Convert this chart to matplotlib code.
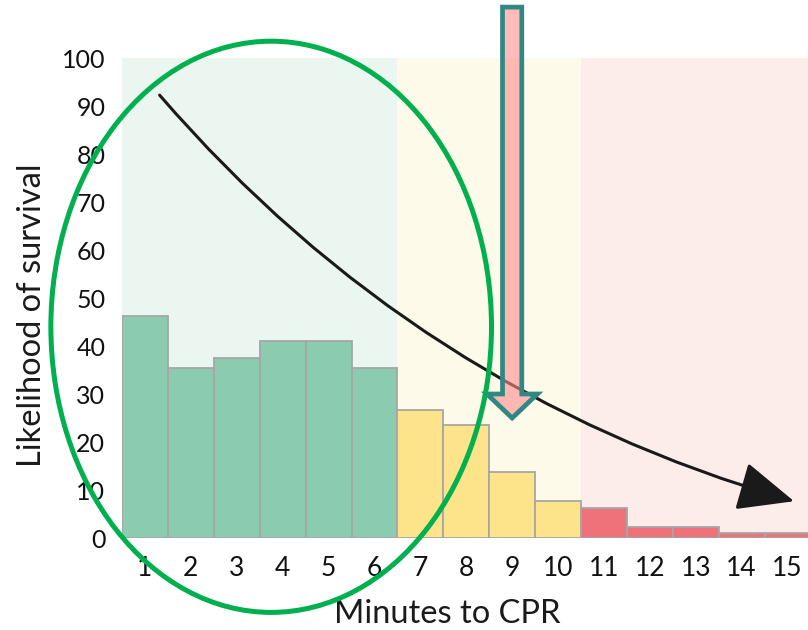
import matplotlib
matplotlib.use("Agg")
import matplotlib.pyplot as plt
from matplotlib.patches import Ellipse, FancyArrowPatch

plt.rcParams['font.family'] = ['Lato', 'DejaVu Sans']

# data
minutes = list(range(1, 16))
survival = [46.3, 35.5, 37.6, 41.0, 41.0, 35.5, 26.7, 23.5, 13.8, 7.7, 6.2, 2.2, 2.2, 1.1, 1.1]
zone_edges = [0.5, 6.5, 10.5, 15.5]
zone_bar_colors = ['#8BCBAF', '#FDE48A', '#EF727A']
zone_bg_colors = ['#EBF6F0', '#FEFAEA', '#FCEDEB']
yticks = list(range(0, 101, 10))

# trend arrow and highlight marks (data coords)
trend_start = (1.28, 92.7)
trend_end = (15.2, 7.5)
marker_x = 9
marker_top = 110.6
marker_tip = 25
ellipse_center = (3.75, 44.0)
ellipse_size = (9.6, 119.0)

fig = plt.figure(figsize=(8.08, 6.30), dpi=100)
ax = fig.add_axes([122 / 808, 92 / 630, 1 - 122 / 808, 480 / 630])

# coloured zones behind the bars
for i in range(3):
    ax.axvspan(zone_edges[i], zone_edges[i + 1], ymin=0, ymax=1,
               color=zone_bg_colors[i], lw=0, zorder=0)

colors = []
for m in minutes:
    for i in range(3):
        if zone_edges[i] < m < zone_edges[i + 1]:
            colors.append(zone_bar_colors[i])
ax.bar(minutes, survival, width=1.0, color=colors, edgecolor='#A6A6A6',
       linewidth=1.3, zorder=2)

ax.set_xlim(0.5, 0.5 + 686 / 45.9)
ax.set_ylim(0, 100)
ax.set_xticks(minutes)
ax.set_yticks(yticks)
ax.tick_params(axis='both', length=0, colors='#111111')
ax.tick_params(axis='y', pad=12, labelsize=18)
ax.tick_params(axis='x', pad=13, labelsize=19)
for s in ax.spines.values():
    s.set_visible(False)

ax.set_xlabel('Minutes to CPR', fontsize=23.5, color='#1A1A1A', va='baseline')
ax.set_ylabel('Likelihood of survival', fontsize=23.5, color='#1A1A1A')
ax.xaxis.set_label_coords(0.474, -0.177)
ax.yaxis.set_label_coords(-0.109, 0.465)

# curved trend arrow
trend = FancyArrowPatch(trend_start, trend_end, connectionstyle='arc3,rad=0.15',
                        arrowstyle='-|>,head_length=1.6,head_width=0.7',
                        mutation_scale=22, lw=2.2, color='#1A1A1A', zorder=4)
ax.add_patch(trend)

# pink marker arrow at 9 minutes
ax.arrow(marker_x, marker_top, 0, marker_tip - marker_top, width=0.42,
         head_width=1.1, head_length=5.0, length_includes_head=True,
         facecolor=(1.0, 0.55, 0.55, 0.6), edgecolor='#2F8884', lw=3.4,
         clip_on=False, zorder=5)

# green ellipse round the first six minutes
ell = Ellipse(ellipse_center, ellipse_size[0], ellipse_size[1], fill=False,
              edgecolor='#00B04F', lw=3.6, clip_on=False, zorder=6)
ax.add_patch(ell)

fig.savefig('out.png', dpi=100)
